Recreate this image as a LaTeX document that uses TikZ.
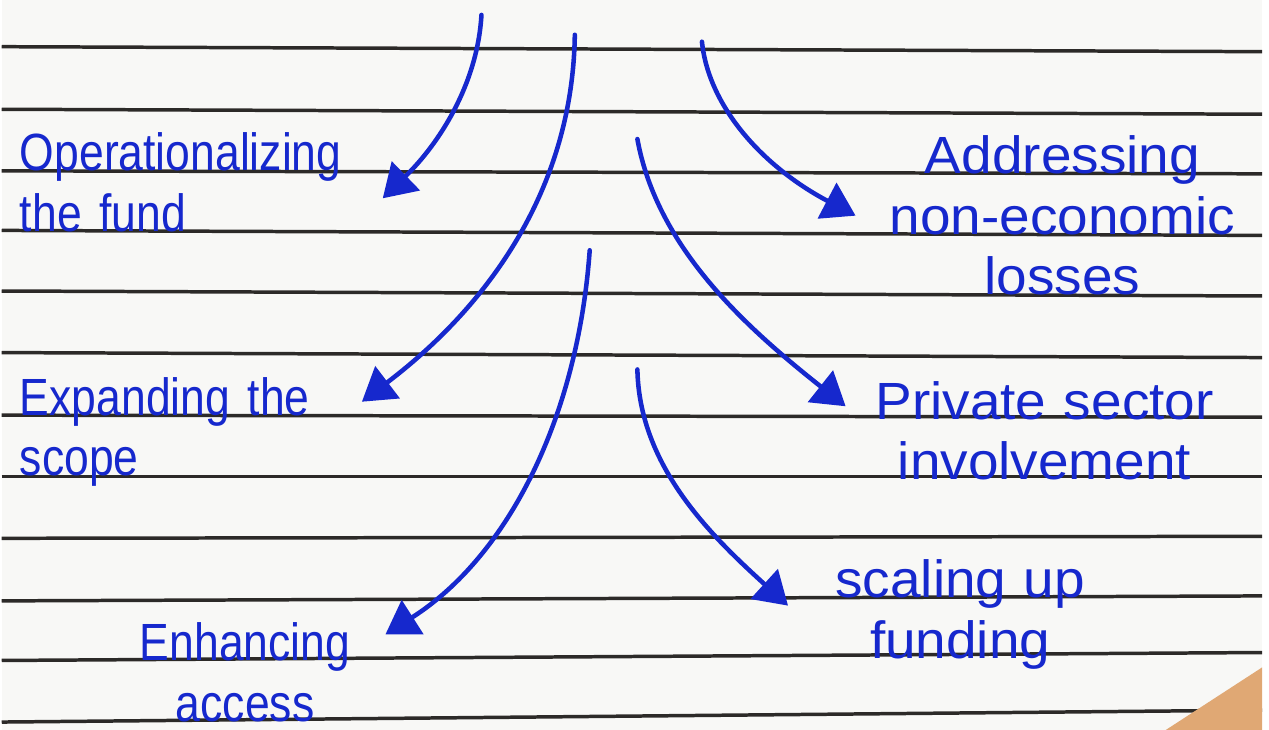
\documentclass[tikz,border=0pt]{standalone}
\usepackage{fontspec}
\setmainfont[FakeStretch=0.85]{Liberation Sans}
\newfontfamily\widehand[FakeStretch=1.05]{Liberation Sans}
\usetikzlibrary{arrows.meta}

\definecolor{ink}{RGB}{22,40,205}
\definecolor{paper}{RGB}{248,248,246}
\definecolor{rule}{RGB}{44,42,40}
\definecolor{stain}{RGB}{224,168,116}

\begin{document}
\begin{tikzpicture}[
  x=0.02cm, y=-0.02cm,
  idea/.style={text=ink,font=\fontsize{30}{34.7}\selectfont,inner sep=0pt},
  wide/.style={idea,font=\widehand\fontsize{30}{34.7}\selectfont},
  pen/.style={ink,line width=2.6pt,line cap=round,-{Triangle[length=0.65cm,width=0.8cm]}}
]
  \fill[paper] (0,0) rectangle (1269,735);
  % ruled lines of the page
  \foreach \l/\r in {47/52,110/115,172/175,232/237,293/298,355/360,418/420,480/480,542/540,605/600,665/657,727/715}
    \draw[rule,line width=2pt] (0,\l) -- (1269,\r);
  \fill[stain] (1172,735) -- (1269,672) -- (1269,735) -- cycle;

  \node[idea,text width=7.3cm,align=left,anchor=base west] (fund) at (18,172) {Operationalizing\\the fund};
  \node[idea,text width=6.88cm,align=left,anchor=base west] (scope) at (18,418) {Expanding the\\scope};
  \node[idea,text width=5.64cm,align=center,anchor=base] (access) at (245,665) {Enhancing\\access};
  \node[wide,text width=8.32cm,align=center,anchor=base] (losses) at (1068,175) {Addressing\\non-economic\\losses};
  \node[wide,text width=8cm,align=center,anchor=base] (private) at (1050,422) {Private sector\\involvement};
  \node[wide,text width=6.92cm,align=center,anchor=base] (funding) at (965,602) {scaling up\\funding};

  \coordinate (s1) at (483,15);
  \coordinate (s2) at (577,35);
  \coordinate (s3) at (592,252);
  \coordinate (s4) at (705,42);
  \coordinate (s5) at (640,140);
  \coordinate (s6) at (640,372);

  \draw[pen] (s1) .. controls (479,85) and (440,145) .. (fund.-5);
  \draw[pen] (s2) .. controls (575,180) and (500,300) .. (scope.10);
  \draw[pen] (s3) .. controls (580,420) and (510,560) .. (access.15);
  \draw[pen] (s4) .. controls (712,110) and (770,170) .. (losses.west);
  \draw[pen] (s5) .. controls (660,250) and (750,330) .. (private.173);
  \draw[pen] (s6) .. controls (642,470) and (715,540) .. (funding.177);
\end{tikzpicture}
\end{document}
